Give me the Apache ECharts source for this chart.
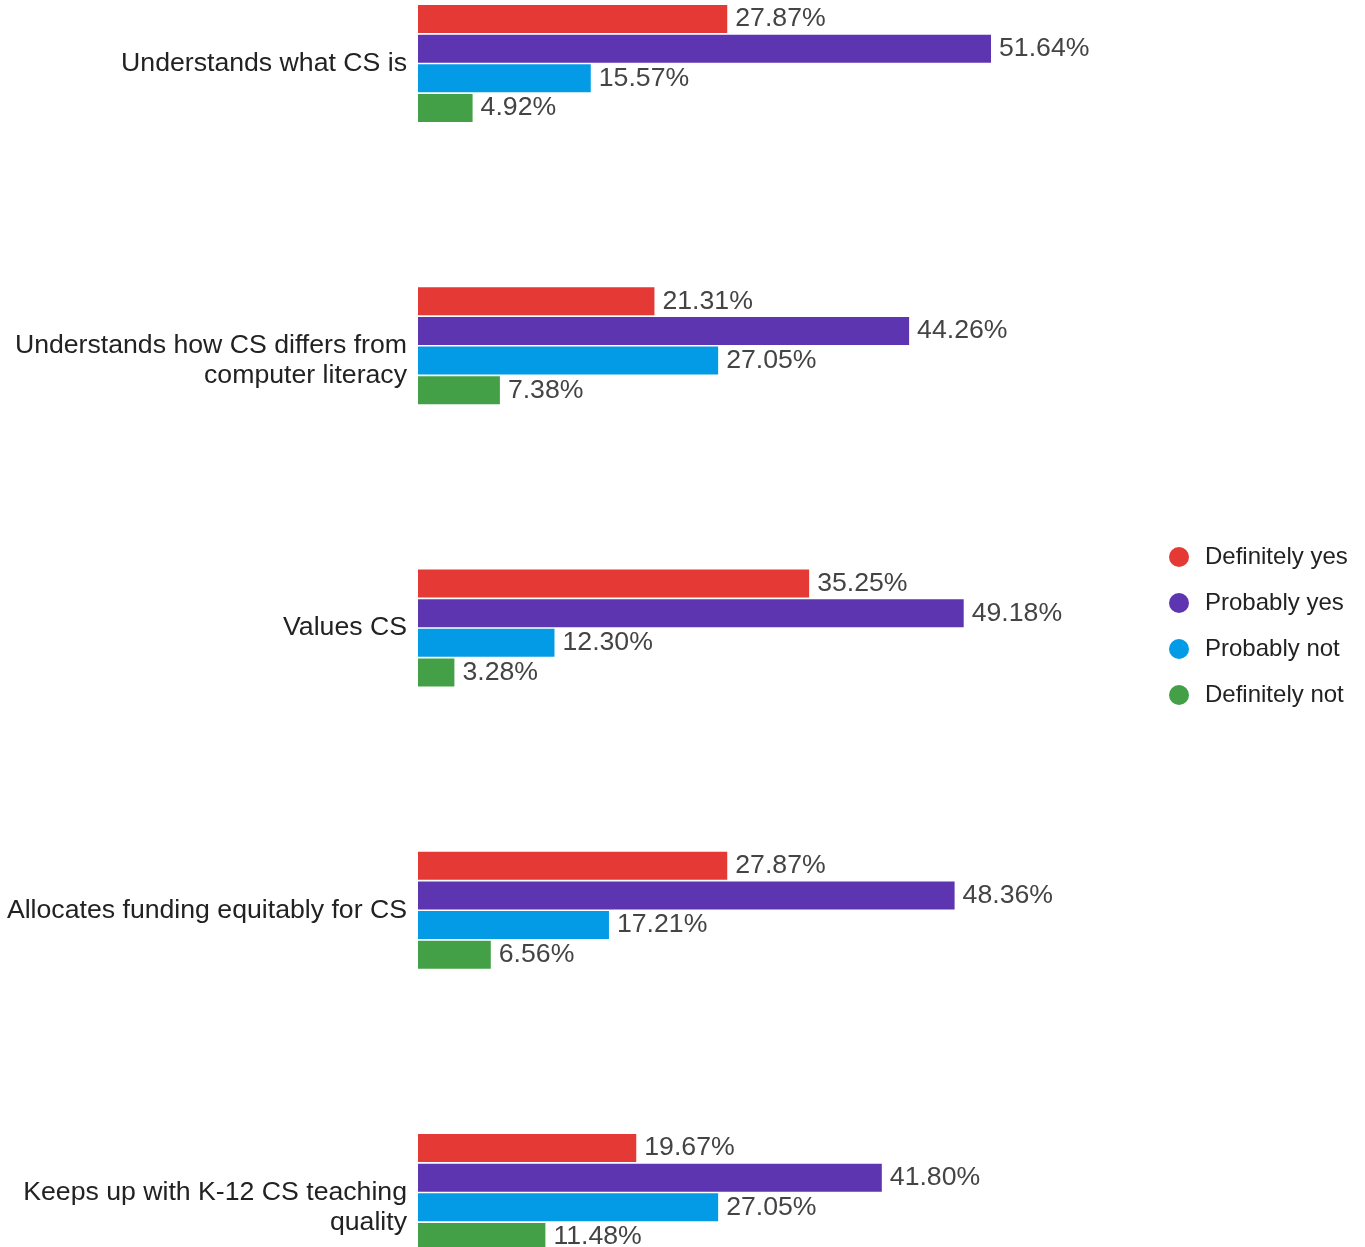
<!DOCTYPE html>
<html>
<head>
<meta charset="utf-8">
<title>CS survey responses</title>
<script src="https://cdn.jsdelivr.net/npm/echarts@6/dist/echarts.min.js"></script>
<style>
  html, body { margin: 0; padding: 0; background: #fff; }
  #chart { width: 1365px; height: 1247px; }
</style>
</head>
<body>
<div id="chart"></div>
<script>
// Survey statements (long ones wrapped onto two lines)
const categories = [
  'Understands what CS is',
  'Understands how CS differs from\ncomputer literacy',
  'Values CS',
  'Allocates funding equitably for CS',
  'Keeps up with K-12 CS teaching\nquality'
];

// Percentage of respondents per answer, one value per statement
const definitelyYes = [27.87, 21.31, 35.25, 27.87, 19.67];
const probablyYes   = [51.64, 44.26, 49.18, 48.36, 41.80];
const probablyNot   = [15.57, 27.05, 12.30, 17.21, 27.05];
const definitelyNot = [4.92, 7.38, 3.28, 6.56, 11.48];

const seriesNames  = ['Definitely yes', 'Probably yes', 'Probably not', 'Definitely not'];
const seriesValues = [definitelyYes, probablyYes, probablyNot, definitelyNot];
const seriesColors = ['#E53935', '#5E35B1', '#039BE5', '#43A047'];

const FONT = '"Liberation Sans", Arial, Helvetica, sans-serif';
const LABEL_SIZE = 26.67;
const X_MAX = 60;
const PX_PER_UNIT = 11.096;

const chart = echarts.init(document.getElementById('chart'), null, { renderer: 'canvas' });

chart.setOption({
  animation: false,
  backgroundColor: '#ffffff',
  color: seriesColors,
  textStyle: { fontFamily: FONT },
  legend: {
    orient: 'vertical',
    left: 1164,
    top: 540,
    icon: 'circle',
    itemWidth: 42,
    itemHeight: 20,
    itemGap: 22,
    textStyle: { fontFamily: FONT, fontSize: 24, color: '#222', lineHeight: 24 },
    data: seriesNames
  },
  grid: {
    left: 418,
    top: 63.5,
    bottom: 54.5,
    width: X_MAX * PX_PER_UNIT
  },
  xAxis: {
    type: 'value',
    min: 0,
    max: X_MAX,
    show: false
  },
  yAxis: {
    type: 'category',
    data: categories,
    inverse: true,
    boundaryGap: false,
    axisLine: { show: false },
    axisTick: { show: false },
    splitLine: { show: false },
    axisLabel: {
      fontFamily: FONT,
      fontSize: LABEL_SIZE,
      color: '#222',
      lineHeight: 30,
      margin: 11,
      align: 'right',
      verticalAlign: 'top',
      padding: [-15, 0, 0, 0]
    }
  },
  series: seriesNames.map((name, i) => ({
    name: name,
    type: 'bar',
    data: seriesValues[i],
    barWidth: 28,
    barGap: '6%',
    itemStyle: { color: seriesColors[i] },
    label: {
      show: true,
      position: 'right',
      distance: 8,
      fontFamily: FONT,
      fontSize: LABEL_SIZE,
      color: '#444',
      formatter: p => p.value.toFixed(2) + '%'
    }
  }))
});
</script>
</body>
</html>
